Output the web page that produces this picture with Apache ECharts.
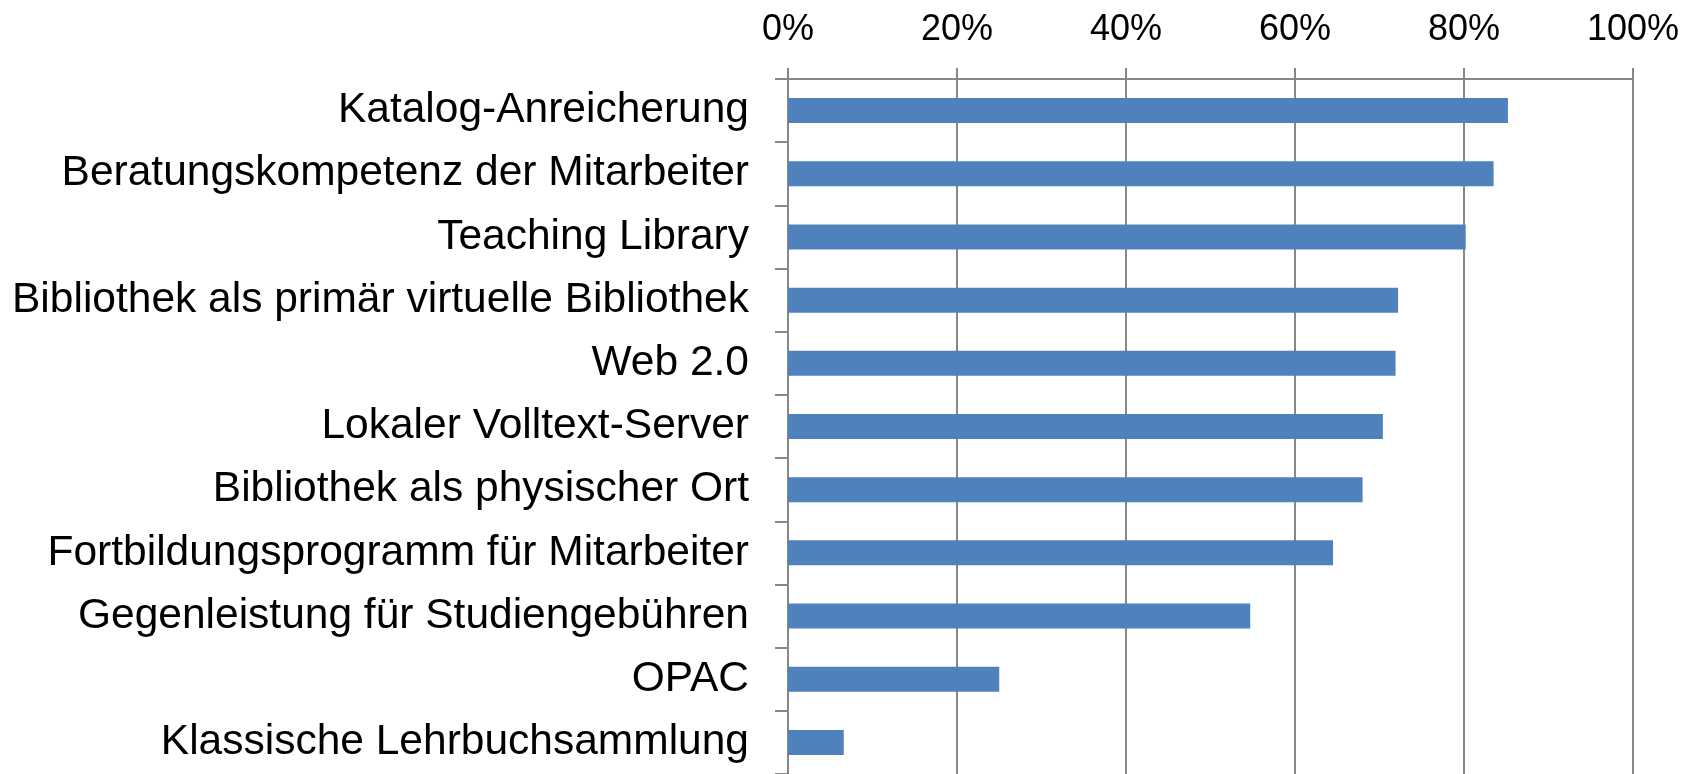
<!DOCTYPE html>
<html>
<head>
<meta charset="utf-8">
<style>
  html, body { margin: 0; padding: 0; background: #fff; }
  #main { width: 1694px; height: 774px; }
</style>
<script src="https://cdn.jsdelivr.net/npm/echarts@6/dist/echarts.min.js"></script>
</head>
<body>
<div id="main"></div>
<script>
// Kategorien von oben nach unten
var categories = [
  'Katalog-Anreicherung',
  'Beratungskompetenz der Mitarbeiter',
  'Teaching Library',
  'Bibliothek als primär virtuelle Bibliothek',
  'Web 2.0',
  'Lokaler Volltext-Server',
  'Bibliothek als physischer Ort',
  'Fortbildungsprogramm für Mitarbeiter',
  'Gegenleistung für Studiengebühren',
  'OPAC',
  'Klassische Lehrbuchsammlung'
];
// Anteil in Prozent
var values = [85.2, 83.5, 80.2, 72.2, 71.9, 70.4, 68.0, 64.5, 54.7, 25.0, 6.6];
var tickValues = [0, 20, 40, 60, 80, 100];

var grey = '#878787';
var font = "'Liberation Sans', Arial, sans-serif";

var chart = echarts.init(document.getElementById('main'));
chart.setOption({
  animation: false,
  grid: { left: 788, right: 61, top: 79, height: 696, containLabel: false },
  xAxis: {
    type: 'value',
    position: 'top',
    min: tickValues[0],
    max: tickValues[tickValues.length - 1],
    interval: 20,
    axisLine: { show: true, lineStyle: { color: grey, width: 2 } },
    axisTick: { show: true, length: 11, lineStyle: { color: grey, width: 2 } },
    splitLine: { show: true, lineStyle: { color: grey, width: 2 } },
    axisLabel: {
      formatter: '{value}%',
      color: '#000',
      fontSize: 36,
      fontFamily: font,
      margin: 31
    }
  },
  yAxis: {
    type: 'category',
    inverse: true,
    data: categories,
    axisLine: { show: true, lineStyle: { color: grey, width: 2 } },
    axisTick: { show: true, length: 13, lineStyle: { color: grey, width: 2 } },
    axisLabel: {
      color: '#000',
      fontSize: 42.5,
      fontFamily: font,
      margin: 39,
      padding: [6, 0, 0, 0]
    }
  },
  series: [{
    type: 'bar',
    data: values,
    barWidth: 25,
    itemStyle: { color: '#4F81BD' }
  }]
});
</script>
</body>
</html>
